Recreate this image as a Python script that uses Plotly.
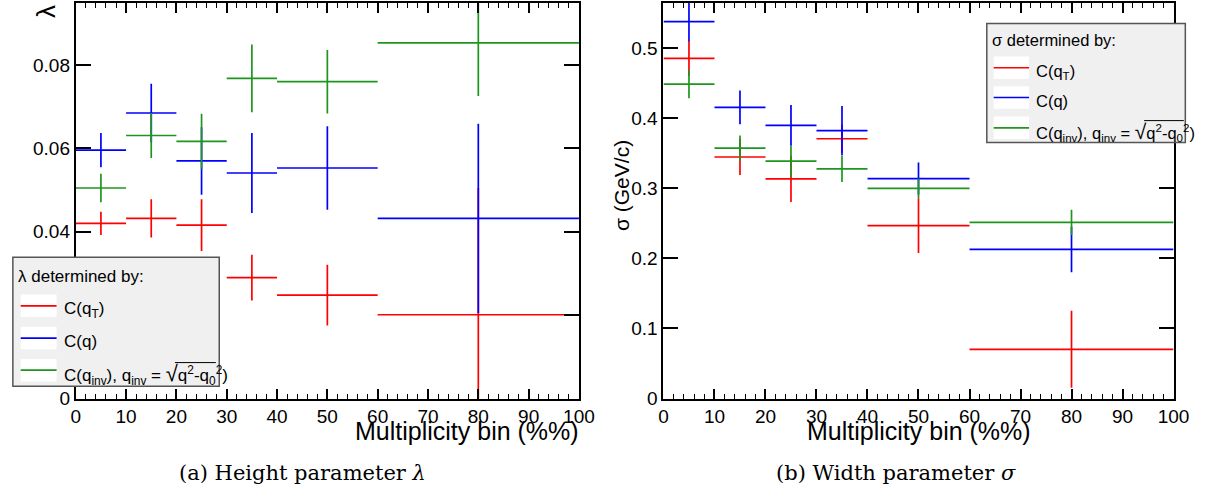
import plotly.graph_objects as go

# Multiplicity bins (%): centres and half-widths
bin_center = [5, 15, 25, 35, 50, 80]
bin_halfwidth = [5, 5, 5, 5, 10, 20]

# Height parameter lambda from the three correlation functions
lambda_qT = [0.0420, 0.0432, 0.0416, 0.0290, 0.0248, 0.0201]
lambda_qT_err = [0.0028, 0.0046, 0.0062, 0.0055, 0.0073, 0.0304]
lambda_q = [0.0596, 0.0685, 0.0570, 0.0541, 0.0553, 0.0432]
lambda_q_err = [0.0041, 0.0070, 0.0081, 0.0096, 0.0100, 0.0227]
lambda_qinv = [0.0505, 0.0631, 0.0617, 0.0768, 0.0760, 0.0853]
lambda_qinv_err = [0.0034, 0.0054, 0.0066, 0.0081, 0.0076, 0.0127]

# Width parameter sigma (GeV/c)
sigma_qT = [0.4856, 0.3448, 0.3136, 0.3709, 0.2469, 0.0702]
sigma_qT_err = [0.025, 0.0256, 0.033, 0.020, 0.039, 0.055]
sigma_q = [0.538, 0.4157, 0.390, 0.3825, 0.314, 0.2129]
sigma_q_err = [0.028, 0.0242, 0.029, 0.035, 0.023, 0.0325]
sigma_qinv = [0.4488, 0.3574, 0.3388, 0.328, 0.300, 0.2516]
sigma_qinv_err = [0.020, 0.018, 0.022, 0.019, 0.014, 0.018]

x_ticks = list(range(0, 101, 10))
series_colors = ["#ff0000", "#0000ff", "#1e961e"]

W, H = 1220, 499
SANS = "Liberation Sans, Arial, sans-serif"
SERIF = "DejaVu Serif, serif"


def px(x):
    return x / W


def py(y):
    return (H - y) / H


def series_names(size):
    root = "<span style='font-size:%dpx'>√</span>" % round(size * 1.3)
    return [
        "C(q<sub>T</sub>)",
        "C(q)",
        "C(q<sub>inv</sub>), q<sub>inv</sub> = " + root
        + "q<sup>2</sup>-q<sub>0</sub><sup>2</sup>)",
    ]


fig = go.Figure()


def add_series(values, errors, color, xa, ya):
    fig.add_trace(go.Scatter(
        x=bin_center, y=values, mode="markers",
        marker=dict(size=1, opacity=0, color=color),
        error_x=dict(type="data", array=bin_halfwidth, symmetric=True,
                     color=color, thickness=1.7, width=0),
        error_y=dict(type="data", array=errors, symmetric=True,
                     color=color, thickness=1.7, width=0),
        xaxis=xa, yaxis=ya, showlegend=False, hoverinfo="skip",
    ))


for vals, errs, col in zip([lambda_qT, lambda_q, lambda_qinv],
                           [lambda_qT_err, lambda_q_err, lambda_qinv_err],
                           series_colors):
    add_series(vals, errs, col, "x", "y")

for vals, errs, col in zip([sigma_qT, sigma_q, sigma_qinv],
                           [sigma_qT_err, sigma_q_err, sigma_qinv_err],
                           series_colors):
    add_series(vals, errs, col, "x2", "y2")

plot_top, plot_bottom = 3, 407.5
ydom = [py(plot_bottom), py(plot_top)]

common_x = dict(
    range=[0, 100], tickvals=x_ticks, ticks="inside", ticklen=10, tickwidth=1.5,
    tickcolor="black", mirror="allticks", showline=True, linecolor="black",
    linewidth=2, showgrid=False, zeroline=False,
    minor=dict(dtick=2, ticks="inside", ticklen=5, tickwidth=1.2, tickcolor="black"),
    tickfont=dict(family=SANS, size=19, color="black"),
)
common_y = dict(
    ticks="inside", ticklen=15, tickwidth=1.5, tickcolor="black",
    mirror="allticks", showline=True, linecolor="black", linewidth=2,
    showgrid=False, zeroline=False,
    tickfont=dict(family=SANS, size=19, color="black"),
)

fig.update_layout(
    width=W, height=H,
    margin=dict(l=0, r=0, t=0, b=0),
    paper_bgcolor="white", plot_bgcolor="white",
    showlegend=False,
    xaxis=dict(domain=[px(72), px(584)], anchor="y", **common_x),
    yaxis=dict(domain=ydom, anchor="x", range=[0, 0.0949], dtick=0.02, tick0=0, **common_y),
    xaxis2=dict(domain=[px(670), px(1189)], anchor="y2", **common_x),
    yaxis2=dict(domain=ydom, anchor="x2", range=[0, 0.5648], dtick=0.1, tick0=0, **common_y),
)

shapes = []
annotations = []


def text(x, y, s, size, xanchor="left", yanchor="middle", family=SANS, angle=0):
    annotations.append(dict(
        x=px(x), y=py(y), xref="paper", yref="paper", text=s, showarrow=False,
        xanchor=xanchor, yanchor=yanchor, textangle=angle, borderpad=0,
        font=dict(family=family, size=size, color="black"),
    ))


def legend_box(x0, y0, x1, y1, title, title_y, sample_x0, sample_x1,
               text_x, rows, half_h, size):
    shapes.append(dict(type="rect", xref="paper", yref="paper",
                       x0=px(x0), x1=px(x1), y0=py(y1), y1=py(y0),
                       fillcolor="#f0f0f0", line=dict(color="#555555", width=1.5),
                       layer="above"))
    text(x0 + 4, title_y, title, size)
    offsets = [4.5, 3.5, 4.5]
    for yy, name, col, off in zip(rows, series_names(size), series_colors, offsets):
        shapes.append(dict(type="rect", xref="paper", yref="paper",
                           x0=px(sample_x0), x1=px(sample_x1),
                           y0=py(yy + half_h), y1=py(yy - half_h),
                           fillcolor="white", line=dict(width=0), layer="above"))
        shapes.append(dict(type="line", xref="paper", yref="paper",
                           x0=px(sample_x0), x1=px(sample_x1), y0=py(yy), y1=py(yy),
                           line=dict(color=col, width=1.7), layer="above"))
        text(text_x, yy + off, name, size)
    # bar of the square root over q^2 - q0^2
    yy = rows[-1] + offsets[-1]
    bar_y = yy - 0.72 * size
    shapes.append(dict(type="line", xref="paper", yref="paper",
                       x0=px(text_x + 6.7 * size), x1=px(text_x + 9.15 * size),
                       y0=py(bar_y), y1=py(bar_y),
                       line=dict(color="black", width=1), layer="above"))


legend_box(8, 263, 218, 395, "λ determined by:", 283, 16, 52.5, 59,
           [312.7, 345.7, 378.5], 11.5, 17)
legend_box(999, 24, 1201, 145.7, "σ determined by:", 41, 1006, 1042, 1048.5,
           [69.3, 99.7, 130.7], 11.5, 16.5)

# axis titles
text(585, 441, "Multiplicity bin (%%)", 25, xanchor="right")
text(930, 441, "Multiplicity bin (%%)", 25, xanchor="center")
text(41, 12, "λ", 26, xanchor="center", angle=-90)
text(628, 190, "σ (GeV/c)", 21, xanchor="center", angle=-90)

# sub-figure captions
text(303, 484, "(a) Height parameter <i>λ</i>", 21, xanchor="center", family=SERIF)
text(907, 484, "(b) Width parameter <i>σ</i>", 21, xanchor="center", family=SERIF)

fig.update_layout(shapes=shapes, annotations=annotations)
fig.write_html("out.html")
